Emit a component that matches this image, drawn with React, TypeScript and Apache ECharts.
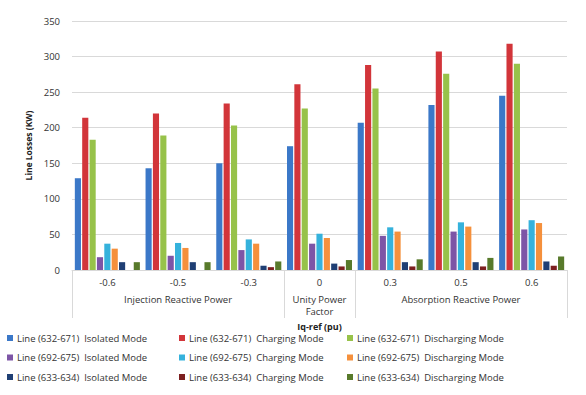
import React, { useEffect, useRef } from "react";
import * as echarts from "echarts";

const categories = ["-0.6", "-0.5", "-0.3", "0", "0.3", "0.5", "0.6"];
const groupLabels = ["", "Injection Reactive Power", "", "Unity Power\nFactor", "", "Absorption Reactive Power", ""];
const yTicks = { min: 0, max: 350, interval: 50 };

const seriesNames = [
  "Line (632-671)  Isolated Mode",
  "Line (632-671)  Charging Mode",
  "Line (632-671)  Discharging Mode",
  "Line (692-675)  Isolated Mode",
  "Line (692-675)  Charging Mode",
  "Line (692-675)  Discharging Mode",
  "Line (633-634)  Isolated Mode",
  "Line (633-634)  Charging Mode",
  "Line (633-634)  Discharging Mode",
];

const line632Isolated = [129, 143, 150, 174, 207, 232, 245];
const line632Charging = [214, 220, 234, 261, 288, 307, 318];
const line632Discharging = [183, 189, 203, 227, 255, 276, 290];
const line692Isolated = [18, 20, 28, 37, 48, 54, 57];
const line692Charging = [37, 38, 43, 51, 60, 67, 70];
const line692Discharging = [30, 31, 37, 45, 54, 61, 66];
const line633Isolated = [11, 11, 6, 9, 11, 11, 12];
const line633Charging = [0, 0, 4, 5, 5, 5, 6];
const line633Discharging = [11, 11, 12, 14, 15, 17, 19];

const seriesData = [
  line632Isolated, line632Charging, line632Discharging,
  line692Isolated, line692Charging, line692Discharging,
  line633Isolated, line633Charging, line633Discharging,
];

const colors = [
  "#3b78c8", "#d2353a", "#97c24a",
  "#7d55a6", "#35b2dc", "#f5903c",
  "#1f3f74", "#7c1f20", "#587a2b",
];

const FONT = "Open Sans";

export default function App() {
  const ref = useRef<HTMLDivElement>(null);
  useEffect(() => {
    if (!ref.current) return;
    document.body.style.margin = "0";
    const chart = echarts.init(ref.current, null, { renderer: "svg" });
    const legendCol = (idx: number[], left: number) => ({
      orient: "vertical",
      left,
      top: 328,
      itemWidth: 6,
      itemHeight: 6,
      itemGap: 9.5,
      icon: "rect",
      data: idx.map((i) => seriesNames[i]),
      textStyle: { fontFamily: FONT, fontSize: 9.5, color: "#333", padding: [0, 0, 0, -1] },
    });
    chart.setOption({
      animation: false,
      color: colors,
      textStyle: { fontFamily: FONT },
      grid: { left: 72, right: 19, top: 21, bottom: 125 },
      legend: [
        legendCol([0, 3, 6], 2),
        legendCol([1, 4, 7], 174),
        legendCol([2, 5, 8], 342),
      ],
      xAxis: [
        {
          type: "category",
          data: categories,
          axisLine: { show: true, lineStyle: { color: "#d9d9d9" } },
          axisTick: { show: false },
          axisLabel: { fontFamily: FONT, fontSize: 9.5, color: "#333", margin: 7 },
        },
        {
          type: "category",
          position: "bottom",
          data: groupLabels,
          axisLine: { show: false },
          axisTick: {
            show: true,
            length: 48,
            interval: (i: number) => i === 0 || i === 3 || i === 4,
            lineStyle: { color: "#d9d9d9" },
          },
          axisLabel: {
            interval: 0,
            fontFamily: FONT,
            fontSize: 9.5,
            color: "#333",
            margin: 23,
            lineHeight: 12,
          },
          name: "Iq-ref (pu)",
          nameLocation: "middle",
          nameGap: 52,
          nameTextStyle: { fontFamily: FONT, fontSize: 9, fontWeight: "bold", color: "#222" },
        },
      ],
      yAxis: {
        type: "value",
        min: yTicks.min,
        max: yTicks.max,
        interval: yTicks.interval,
        axisLine: { show: false },
        axisTick: { show: false },
        splitLine: { lineStyle: { color: "#d9d9d9" } },
        axisLabel: { fontFamily: FONT, fontSize: 9.5, color: "#333", margin: 12 },
        name: "Line Losses (KW)",
        nameLocation: "middle",
        nameGap: 35,
        nameTextStyle: { fontFamily: FONT, fontSize: 8.5, fontWeight: "bold", color: "#222" },
      },
      series: seriesData.map((d, i) => ({
        name: seriesNames[i],
        type: "bar",
        xAxisIndex: 0,
        data: d,
        barCategoryGap: "8%",
        barGap: "20%",
      })),
    });
    return () => chart.dispose();
  }, []);
  return <div ref={ref} style={{ width: 586, height: 395 }} />;
}
